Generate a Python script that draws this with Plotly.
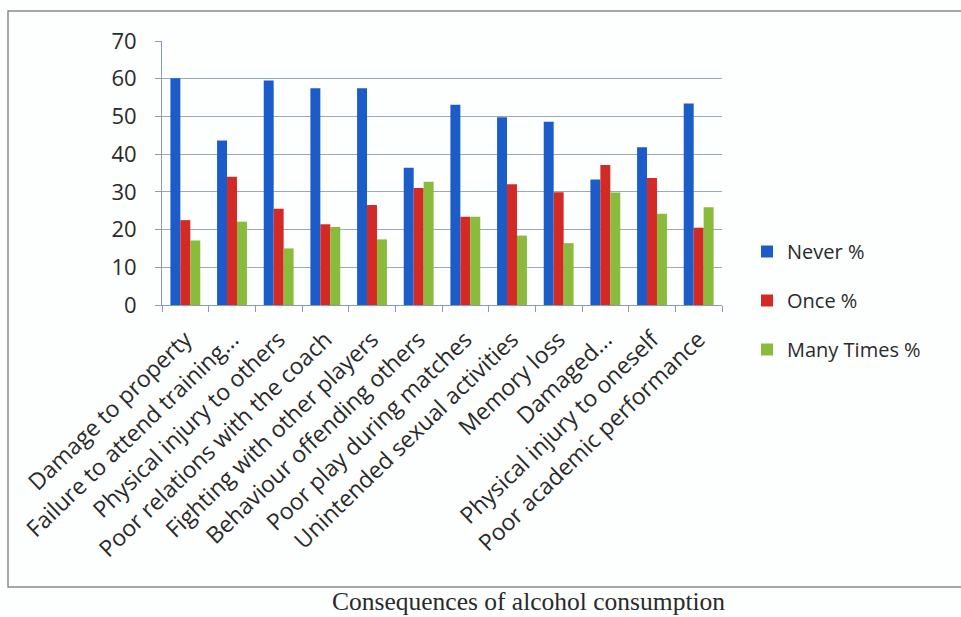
import plotly.graph_objects as go

categories = [
    "Damage to property",
    "Failure to attend training...",
    "Physical injury to others",
    "Poor relations with the coach",
    "Fighting with other players",
    "Behaviour offending others",
    "Poor play during matches",
    "Unintended sexual activities",
    "Memory loss",
    "Damaged...",
    "Physical injury to oneself",
    "Poor academic performance",
]
never = [60.1, 43.6, 59.5, 57.5, 57.5, 36.4, 53.1, 49.8, 48.6, 33.3, 41.8, 53.4]
once = [22.5, 34.0, 25.5, 21.4, 26.5, 31.0, 23.4, 32.0, 29.9, 37.1, 33.7, 20.5]
many = [17.1, 22.1, 15.0, 20.7, 17.4, 32.7, 23.4, 18.4, 16.4, 29.8, 24.2, 25.9]
series_names = ["Never %", "Once %", "Many Times %"]
colors = ["#1c5cc8", "#d42a26", "#8abb3c"]
y_ticks = [0, 10, 20, 30, 40, 50, 60, 70]

fig = go.Figure()
for name, vals, col in zip(series_names, [never, once, many], colors):
    fig.add_trace(go.Bar(x=categories, y=vals, name=name, marker_color=col,
                         marker_line_width=0, legendgroup=name))

W, H = 961, 617
ml, mr, mt, mb = 162, 239, 41, 312
pw, ph = W - ml - mr, H - mt - mb

def px_x(p):
    return (p - ml) / pw

def px_y(p):
    return (H - mb - p) / ph

fig.update_layout(
    width=W, height=H,
    margin=dict(l=ml, r=mr, t=mt, b=mb),
    paper_bgcolor="#fdfefe", plot_bgcolor="rgba(0,0,0,0)",
    barmode="group", bargap=0.36, bargroupgap=0,
    font=dict(family="Open Sans, sans-serif", color="#2a2a2a"),
    showlegend=True,
    legend=dict(x=px_x(747), y=px_y(232), xanchor="left", yanchor="top",
                font=dict(size=20, color="#2a2a2a"), tracegroupgap=20,
                itemwidth=30, bgcolor="rgba(0,0,0,0)"),
    xaxis=dict(tickangle=-44, tickfont=dict(size=23, color="#2a2a2a"),
               showline=True, linecolor="#8a9ab5", linewidth=1,
               ticks="outside", ticklen=6, tickcolor="#8a9ab5",
               ticklabelstandoff=11,
               tickson="boundaries", showgrid=False),
    yaxis=dict(range=[0, 70], tickvals=y_ticks, tickfont=dict(size=22, color="#2a2a2a"),
               showline=True, linecolor="#8a9ab5", linewidth=1,
               ticks="outside", ticklen=6, tickcolor="#8a9ab5",
               ticklabelstandoff=14,
               gridcolor="#9aa8c0", gridwidth=1, zeroline=False),
)

# outer chart border (extends past the right edge of the picture)
fig.add_shape(type="rect", xref="paper", yref="paper",
              x0=px_x(8), x1=px_x(975), y0=px_y(587), y1=px_y(11),
              line=dict(color="#8a8a8a", width=1.5), fillcolor="rgba(0,0,0,0)",
              layer="below")

fig.add_annotation(text="Consequences of alcohol consumption", xref="paper", yref="paper",
                   x=px_x(528), y=px_y(601), xanchor="center", yanchor="middle",
                   showarrow=False,
                   font=dict(family="Liberation Serif, Times New Roman, serif", size=25.5,
                             color="#2a2a2a"))

fig.write_html("out.html")
